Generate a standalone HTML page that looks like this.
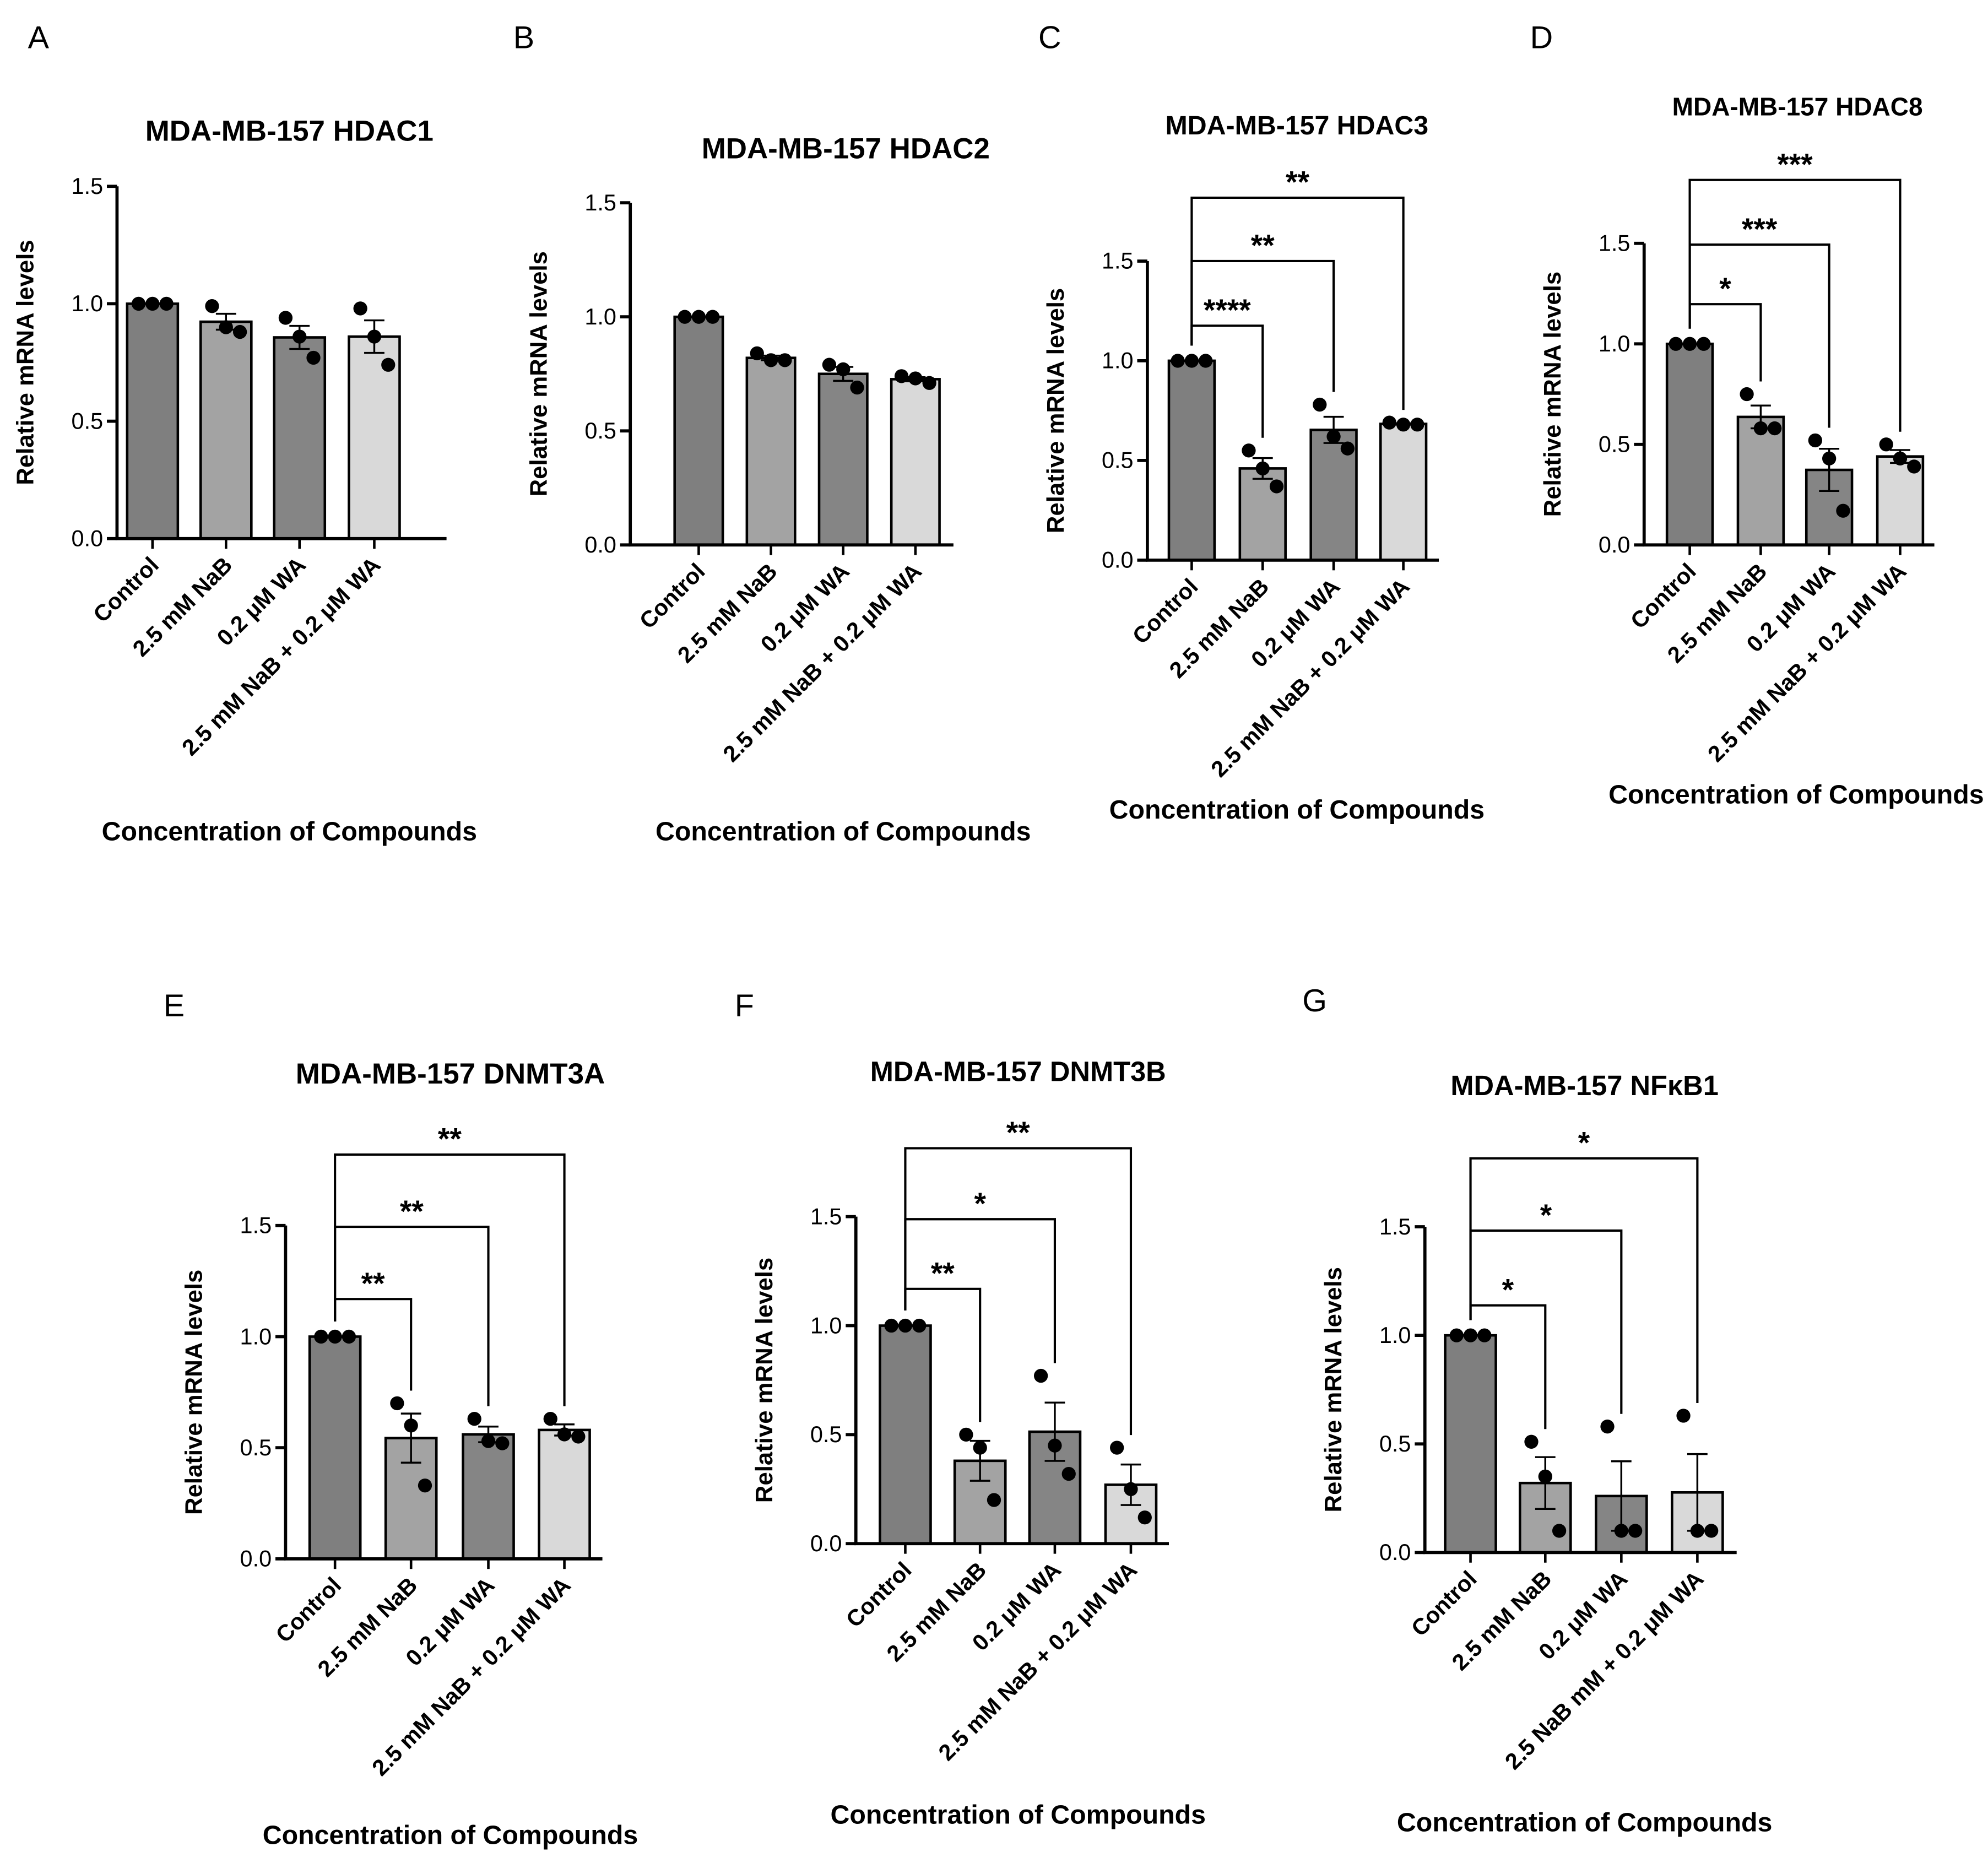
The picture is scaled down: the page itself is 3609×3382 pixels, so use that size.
<!DOCTYPE html>
<html><head><meta charset="utf-8">
<style>
html,body{margin:0;padding:0;background:#fff;}
svg{display:block;}
text{font-family:"Liberation Sans",Arial,sans-serif;}
</style></head>
<body>
<svg id="fig" width="3609" height="3382" viewBox="0 0 1568 1470" xmlns="http://www.w3.org/2000/svg"></svg>
<script>
// ---- data ----
const categories = ["Control","2.5 mM NaB","0.2 μM WA","2.5 mM NaB + 0.2 μM WA"];
const categoriesG = ["Control","2.5 mM NaB","0.2 μM WA","2.5 NaB mM + 0.2 μM WA"];
const yTicks = [0.0,0.5,1.0,1.5];
const yTickLabels = ["0.0","0.5","1.0","1.5"];
const barColors = ["#7f7f7f","#a3a3a3","#858585","#d9d9d9"];
const titles = ["MDA-MB-157 HDAC1","MDA-MB-157 HDAC2","MDA-MB-157 HDAC3","MDA-MB-157 HDAC8","MDA-MB-157 DNMT3A","MDA-MB-157 DNMT3B","MDA-MB-157 NFκB1"];
const letters = ["A","B","C","D","E","F","G"];
const pointsA = [[1,1,1],[0.99,0.90,0.88],[0.94,0.86,0.77],[0.98,0.86,0.74]];
const pointsB = [[1,1,1],[0.84,0.81,0.81],[0.79,0.77,0.69],[0.74,0.73,0.71]];
const pointsC = [[1,1,1],[0.55,0.46,0.37],[0.78,0.62,0.56],[0.69,0.68,0.68]];
const pointsD = [[1,1,1],[0.75,0.58,0.58],[0.52,0.43,0.17],[0.50,0.43,0.39]];
const pointsE = [[1,1,1],[0.70,0.60,0.33],[0.63,0.53,0.52],[0.63,0.56,0.55]];
const pointsF = [[1,1,1],[0.50,0.44,0.20],[0.77,0.45,0.32],[0.44,0.25,0.12]];
const pointsG = [[1,1,1],[0.51,0.35,0.10],[0.58,0.10,0.10],[0.63,0.10,0.10]];
const sigC = ["****","**","**"];
const sigD = ["*","***","***"];
const sigE = ["**","**","**"];
const sigF = ["**","*","**"];
const sigG = ["*","*","*"];

// ---- layout ----
const panels = [
 {pts:pointsA,sig:null,cats:categories,ax:92,yTop:147,yBot:425,xEnd:352,bars:[120,178,236,295],bw:40,title:[228,103],letter:[30,28],xt:[228,655],ttl:23},
 {pts:pointsB,sig:null,cats:categories,ax:497,yTop:160,yBot:430,xEnd:752,bars:[551,608,665,722],bw:38,title:[667,117],letter:[413,28],xt:[665,655],ttl:23},
 {pts:pointsC,sig:sigC,cats:categories,ax:905,yTop:206,yBot:442,xEnd:1135,bars:[940,996,1052,1107],bw:36,title:[1023,98],letter:[828,28],xt:[1023,638],ttl:21,br:[257,206,156]},
 {pts:pointsD,sig:sigD,cats:categories,ax:1297,yTop:192,yBot:430,xEnd:1526,bars:[1333,1389,1443,1499],bw:36,title:[1418,83],letter:[1216,28],xt:[1417,626],ttl:20,br:[240,193,142]},
 {pts:pointsE,sig:sigE,cats:categories,ax:225,yTop:967,yBot:1230,xEnd:475,bars:[264,324,385,445],bw:40,title:[355,847],letter:[137,792],xt:[355,1447],ttl:23,br:[1025,968,911]},
 {pts:pointsF,sig:sigF,cats:categories,ax:675,yTop:960,yBot:1218,xEnd:922,bars:[714,773,832,892],bw:40,title:[803,845],letter:[587,792],xt:[803,1431],ttl:22,br:[1017,962,906]},
 {pts:pointsG,sig:sigG,cats:categoriesG,ax:1124,yTop:968,yBot:1225,xEnd:1370,bars:[1160,1219,1279,1339],bw:40,title:[1250,856],letter:[1037,788],xt:[1250,1437],ttl:22,br:[1030,971,914]}
];

const NS="http://www.w3.org/2000/svg";
const svg=document.getElementById('fig');
function mk(tag,attrs,parent,txt){const e=document.createElementNS(NS,tag);for(const k in attrs)e.setAttribute(k,attrs[k]);if(txt!==undefined)e.textContent=txt;parent.appendChild(e);return e;}

panels.forEach((p,pi)=>{
  const g=mk('g',{},svg);
  
  
  const y=v=>p.yBot-(v/1.5)*(p.yBot-p.yTop);
  const lt=mk('text',{x:p.letter[0],y:p.letter[1]+10,'font-size':25,'text-anchor':'middle'},g,letters[pi]);
  
  
  const tt=mk('text',{x:p.title[0],y:p.title[1]+8,'font-size':p.ttl,'font-weight':'bold','text-anchor':'middle'},g,titles[pi]);
  
  
  p.pts.forEach((arr,i)=>{
    const m=arr.reduce((a,b)=>a+b,0)/arr.length;
    const sd=Math.sqrt(arr.reduce((a,b)=>a+(b-m)*(b-m),0)/(arr.length-1));
    const se=sd/Math.sqrt(arr.length);
    const cx=p.bars[i];
    const r=mk('rect',{x:cx-p.bw/2,y:y(m),width:p.bw,height:p.yBot-y(m),fill:barColors[i],stroke:'#000','stroke-width':2},g);
    
    
    if(se>0.001){
      const eb=mk('path',{d:`M${cx},${y(m-se)}V${y(m+se)}M${cx-8},${y(m+se)}H${cx+8}M${cx-8},${y(m-se)}H${cx+8}`,stroke:'#000','stroke-width':1.5,fill:'none'},g);
      
      
    }
    const off=[-11,0,11];
    arr.forEach((v,j)=>{
      const c=mk('circle',{cx:cx+off[j],cy:y(v),r:5.5,fill:'#000'},g);
      
      
    });
    const lab=mk('text',{x:cx+6,y:p.yBot+22,'font-size':18,'font-weight':'bold','text-anchor':'end',transform:`rotate(-45 ${cx+6} ${p.yBot+22})`},g,p.cats[i]);
    
    
  });
  const ax=mk('path',{d:`M${p.ax},${p.yTop}V${p.yBot}H${p.xEnd}`,stroke:'#000','stroke-width':2.5,fill:'none'},g);
  
  
  yTicks.forEach((t,k)=>{
    mk('line',{x1:p.ax-8,x2:p.ax,y1:y(t),y2:y(t),stroke:'#000','stroke-width':2.5},g);
    const tl=mk('text',{x:p.ax-11,y:y(t)+6,'font-size':18,'text-anchor':'end'},g,yTickLabels[k]);
    
    
  });
  p.bars.forEach(cx=>mk('line',{x1:cx,x2:cx,y1:p.yBot,y2:p.yBot+8,stroke:'#000','stroke-width':2},g));
  const ym=(p.yTop+p.yBot)/2, yx=p.ax-66;
  const yl=mk('text',{x:yx,y:ym,'font-size':19,'font-weight':'bold','text-anchor':'middle',transform:`rotate(-90 ${yx} ${ym})`},g,'Relative mRNA levels');
  
  
  const xl=mk('text',{x:p.xt[0],y:p.xt[1]+8,'font-size':21,'font-weight':'bold','text-anchor':'middle'},g,'Concentration of Compounds');
  
  
  if(p.sig){
    const c0=p.bars[0], top0=y(1.0)-12;
    p.sig.forEach((s,k)=>{
      const cx=p.bars[k+1];
      const by=p.br[k];
      const bt=y(p.pts[k+1].reduce((a,b)=>Math.max(a,b),0))-10;
      const br=mk('path',{d:`M${c0},${top0}V${by}H${cx}V${bt}`,stroke:'#000','stroke-width':1.8,fill:'none'},g);
      
      
      const st=mk('text',{x:(c0+cx)/2,y:by-4,'font-size':24,'font-weight':'bold','text-anchor':'middle'},g,s);
      
      
    });
  }
});
</script>
</body></html>
